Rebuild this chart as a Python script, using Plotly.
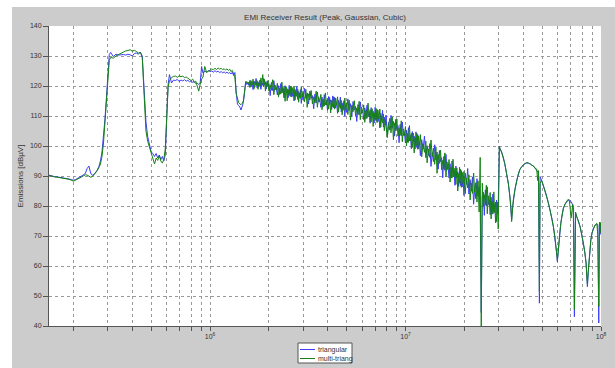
import plotly.graph_objects as go

# ---------------- data ----------------
# frequencies in MHz
freq_low = [0.150, 0.155, 0.160, 0.165, 0.170, 0.175, 0.180, 0.185, 0.190, 0.195,
            0.200, 0.205, 0.210, 0.215, 0.220, 0.225, 0.230, 0.235, 0.240, 0.245,
            0.250, 0.255, 0.260, 0.265, 0.270, 0.275, 0.280, 0.285, 0.290, 0.295,
            0.300, 0.305, 0.310, 0.320, 0.330, 0.340, 0.350, 0.360, 0.370, 0.380,
            0.390, 0.400, 0.410, 0.420, 0.430, 0.440, 0.450, 0.460, 0.470, 0.480,
            0.490, 0.500, 0.510, 0.520, 0.530, 0.540, 0.550, 0.560, 0.570, 0.580,
            0.590, 0.600, 0.610, 0.620, 0.635, 0.650, 0.665, 0.680, 0.695, 0.710,
            0.725, 0.740, 0.755, 0.770, 0.785, 0.800, 0.815, 0.830, 0.845, 0.860,
            0.875, 0.890, 0.905, 0.920, 0.940, 0.960, 0.980, 1.000, 1.020, 1.040,
            1.060, 1.080, 1.100, 1.120, 1.140, 1.160, 1.180, 1.200, 1.220, 1.240,
            1.260, 1.280, 1.300, 1.320, 1.340, 1.360, 1.380, 1.400, 1.420, 1.440,
            1.460, 1.480, 1.500, 1.520, 1.540, 1.560, 1.580]

triangular_low = [90.3, 90.0, 89.8, 89.7, 89.6, 89.5, 89.4, 89.3, 89.0, 88.8,
                  88.6, 88.8, 89.3, 89.8, 90.0, 90.4, 90.8, 92.5, 93.3, 91.0,
                  90.2, 90.5, 91.2, 92.0, 93.2, 95.0, 98.0, 102.5, 109.0, 116.0,
                  124.0, 130.5, 131.2, 129.8, 130.6, 130.3, 130.4, 130.5, 130.3, 130.6,
                  130.4, 130.0, 130.8, 131.0, 130.6, 131.3, 130.0, 120.0, 108.0, 103.0,
                  100.0, 98.0, 97.5, 96.5, 97.5, 96.0, 97.0, 95.5, 96.5, 95.0,
                  97.0, 112.0, 120.5, 123.8, 121.0, 122.0, 121.8, 122.2, 121.5, 122.0,
                  121.7, 122.1, 121.6, 121.9, 121.4, 121.7, 121.2, 121.5, 120.8, 121.0,
                  120.5, 121.0, 126.5, 124.3, 125.0, 124.6, 125.2, 124.8, 125.0, 124.6,
                  125.1, 124.7, 124.9, 124.5, 124.8, 124.4, 124.7, 124.3, 124.6, 124.2,
                  124.5, 124.0, 124.6, 123.5, 124.5, 118.0, 114.0, 113.5, 113.0, 112.0,
                  113.2, 114.5, 117.5, 121.5, 120.5, 121.2, 120.2]

multi_triang_low = [90.2, 89.9, 89.7, 89.6, 89.5, 89.4, 89.3, 89.1, 88.9, 88.6,
                    88.3, 88.6, 89.0, 89.5, 89.9, 90.2, 90.4, 90.3, 90.0, 89.6,
                    89.8, 90.4, 91.0, 91.8, 92.8, 94.0, 96.5, 101.0, 108.0, 116.0,
                    123.0, 128.5, 129.5, 129.3, 130.0, 130.6, 130.9, 131.3, 131.7, 131.8,
                    132.1, 131.6, 131.9, 131.5, 131.0, 131.2, 129.5, 117.0, 105.0, 101.5,
                    99.5, 97.0, 95.5, 94.0, 96.0, 95.2, 96.8, 95.0, 94.3, 95.5,
                    99.0, 110.0, 119.5, 121.8, 122.8, 123.2, 123.3, 122.9, 123.4, 123.1,
                    123.3, 122.8, 123.0, 122.6, 122.2, 121.8, 122.3, 121.2, 121.6, 119.5,
                    118.3, 120.5, 122.3, 123.0, 126.5, 124.5, 125.0, 125.3, 125.7, 125.4,
                    125.9, 125.5, 126.0, 125.6, 125.9, 125.4, 125.8, 125.3, 125.7, 125.2,
                    125.6, 124.8, 125.2, 124.0, 123.0, 117.5, 115.5, 114.5, 114.0, 113.8,
                    114.2, 115.0, 118.0, 120.8, 121.5, 120.6, 121.3]

freq_mid = [1.60, 1.62, 1.64, 1.66, 1.68, 1.70, 1.72, 1.74, 1.76, 1.78,
            1.80, 1.82, 1.84, 1.86, 1.88, 1.90, 1.92, 1.94, 1.96, 1.98,
            2.00, 2.03, 2.06, 2.09, 2.12, 2.15, 2.18, 2.21, 2.24, 2.27,
            2.30, 2.33, 2.36, 2.39, 2.42, 2.45, 2.48, 2.51, 2.54, 2.57,
            2.60, 2.63, 2.66, 2.69, 2.72, 2.75, 2.78, 2.81, 2.84, 2.87,
            2.90, 2.93, 2.96, 2.99,
            3.04, 3.09, 3.14, 3.19, 3.24, 3.29, 3.34, 3.39, 3.44, 3.49,
            3.54, 3.59, 3.64, 3.69, 3.74, 3.79, 3.84, 3.89, 3.94, 3.99,
            4.04, 4.09, 4.14, 4.19, 4.24, 4.29, 4.34, 4.39, 4.44, 4.49,
            4.54, 4.59, 4.64, 4.69, 4.74, 4.79, 4.84, 4.89, 4.94, 4.99,
            5.07, 5.15, 5.23, 5.31, 5.39, 5.47, 5.55, 5.63, 5.71, 5.79,
            5.87, 5.95, 6.03, 6.11, 6.19, 6.27, 6.35, 6.43, 6.51, 6.59,
            6.67, 6.75, 6.83, 6.91, 6.99, 7.07, 7.15, 7.23, 7.31, 7.39,
            7.47, 7.55, 7.63, 7.71, 7.79, 7.87, 7.95,
            8.07, 8.19, 8.31, 8.43, 8.55, 8.67, 8.79, 8.91, 9.03, 9.15,
            9.27, 9.39, 9.51, 9.63, 9.75, 9.87, 9.99, 10.11, 10.23, 10.35,
            10.47, 10.59, 10.71, 10.83, 10.95, 11.07, 11.19, 11.31, 11.43, 11.55,
            11.67, 11.79, 11.91,
            12.1, 12.3, 12.5, 12.7, 12.9, 13.1, 13.3, 13.5, 13.7, 13.9,
            14.1, 14.3, 14.5, 14.7, 14.9, 15.1, 15.3, 15.5, 15.7, 15.9,
            16.1, 16.3, 16.5, 16.7, 16.9, 17.1, 17.3, 17.5, 17.7, 17.9,
            18.1, 18.3, 18.5, 18.7, 18.9, 19.1, 19.3, 19.5, 19.7, 19.9,
            20.2, 20.5, 20.8, 21.1, 21.4, 21.7, 22.0, 22.3, 22.6, 22.9,
            23.2, 23.5, 23.8, 24.1, 24.4, 24.7, 25.0, 25.3, 25.6, 25.9,
            26.2, 26.5, 26.8, 27.1, 27.4, 27.7, 28.0, 28.3, 28.6, 28.9,
            29.2, 29.5, 29.8]

triangular_mid = [121.9, 119.7, 121.0, 118.8, 121.6, 120.4, 122.5, 119.4, 121.4, 120.1,
                  122.0, 118.9, 121.1, 120.2, 122.5, 120.3, 121.4, 119.0, 121.7, 120.2,
                  120.8, 116.8, 121.2, 118.5, 121.8, 118.7, 119.4, 117.0, 120.1, 117.2,
                  120.8, 117.7, 119.1, 116.0, 120.1, 117.7, 119.1, 116.1, 120.2, 116.6,
                  119.8, 116.5, 118.2, 115.0, 118.9, 117.1, 119.9, 115.5, 118.2, 116.2,
                  118.8, 114.2, 117.2, 115.4,
                  119.2, 115.9, 117.7, 114.0, 118.3, 115.9, 116.8, 112.4, 117.3, 114.3,
                  118.0, 114.6, 115.5, 112.9, 116.3, 113.1, 117.1, 113.7, 115.3, 111.9,
                  116.5, 113.8, 115.4, 112.2, 116.7, 112.7, 116.2, 112.7, 114.5, 110.9,
                  115.2, 113.2, 116.3, 111.4, 114.4, 112.2, 115.1, 109.9, 113.3, 111.3,
                  115.7, 111.9, 114.1, 109.7, 114.8, 112.0, 113.2, 108.2, 113.8, 110.4,
                  114.7, 110.8, 111.9, 108.8, 112.7, 109.1, 113.6, 109.8, 111.5, 107.6,
                  112.8, 109.8, 111.6, 107.7, 112.9, 108.3, 112.2, 108.1, 110.0, 106.0,
                  110.9, 108.5, 111.9, 106.3, 109.6, 107.0, 110.3,
                  103.8, 107.9, 105.3, 110.2, 105.9, 108.2, 103.3, 108.9, 105.6, 106.8,
                  101.1, 107.2, 103.4, 108.0, 103.5, 104.5, 101.0, 105.3, 101.2, 106.1,
                  101.7, 103.6, 99.1, 104.8, 101.4, 103.3, 99.0, 104.7, 99.5, 103.8,
                  99.1, 101.3, 96.8,
                  102.1, 99.0, 103.3, 96.1, 100.1, 96.8, 100.8, 93.2, 97.8, 94.8,
                  100.4, 95.4, 98.0, 92.3, 98.5, 94.8, 96.1, 89.4, 96.5, 91.9,
                  97.2, 92.1, 93.3, 89.3, 94.1, 89.3, 95.0, 89.9, 92.0, 86.9,
                  93.3, 89.3, 91.4, 86.5, 92.9, 86.8, 91.8, 86.4, 88.8, 83.5,
                  91.0, 87.2, 92.5, 84.0, 88.8, 84.9, 89.7, 80.6, 86.1, 82.4,
                  89.1, 83.3, 86.4, 79.8, 44.5, 83.0, 84.6, 76.9, 85.4, 80.0,
                  86.4, 80.4, 81.8, 77.1, 82.9, 77.3, 84.0, 77.9, 80.4, 74.4,
                  82.0, 77.3, 79.9]

multi_triang_mid = [119.5, 121.8, 120.4, 122.3, 119.1, 121.2, 120.1, 121.8, 118.9, 121.1,
                    120.0, 122.7, 120.6, 123.8, 119.7, 122.2, 118.3, 121.1, 119.8, 121.8,
                    118.3, 120.4, 118.6, 122.1, 117.1, 120.3, 118.7, 120.9, 116.3, 119.4,
                    117.3, 121.3, 117.7, 119.6, 114.9, 119.8, 115.1, 118.8, 116.9, 120.0,
                    116.3, 119.5, 117.4, 120.0, 115.3, 118.2, 116.5, 118.9, 114.6, 117.6,
                    115.9, 119.7, 116.4, 118.2,
                    114.7, 118.9, 112.9, 117.4, 115.3, 118.5, 114.0, 116.4, 114.4, 118.3,
                    112.9, 116.4, 114.8, 117.2, 112.1, 115.6, 113.3, 117.7, 113.7, 115.8,
                    112.3, 116.2, 111.0, 115.2, 113.1, 116.4, 112.3, 116.0, 113.6, 116.4,
                    111.3, 114.4, 112.5, 115.2, 110.4, 113.7, 111.9, 116.0, 112.4, 114.4,
                    110.5, 115.3, 108.6, 113.6, 111.4, 115.1, 110.1, 112.7, 110.5, 114.9,
                    108.8, 112.9, 111.0, 113.7, 107.9, 111.9, 109.2, 114.3, 109.7, 112.1,
                    108.0, 112.4, 106.5, 111.1, 108.7, 112.5, 107.8, 111.9, 109.0, 112.3,
                    106.3, 109.9, 107.7, 110.6, 105.1, 108.8, 106.7,
                    102.8, 106.8, 109.2, 104.4, 109.7, 102.1, 107.7, 105.1, 109.0, 103.3,
                    106.1, 103.6, 108.4, 101.4, 105.7, 103.5, 106.5, 100.0, 104.2, 101.2,
                    106.8, 101.7, 104.2, 99.5, 104.3, 97.7, 102.8, 100.1, 104.2, 98.9,
                    103.3, 100.2, 103.8,
                    96.4, 100.7, 97.9, 101.6, 94.4, 99.0, 96.2, 102.0, 96.5, 99.3,
                    93.9, 99.7, 90.9, 97.2, 94.2, 98.6, 92.1, 95.2, 92.3, 97.7,
                    89.7, 94.7, 92.2, 95.5, 88.0, 92.9, 89.4, 95.6, 89.7, 92.6,
                    87.2, 92.7, 85.0, 90.8, 87.6, 92.3, 86.2, 91.2, 87.5, 91.5,
                    84.1, 89.3, 86.0, 90.4, 82.0, 87.6, 84.2, 91.0, 84.6, 87.8,
                    81.3, 88.4, 78.0, 96.2, 39.0, 87.6, 79.9, 83.8, 80.4, 86.9,
                    77.4, 83.4, 80.4, 84.5, 75.7, 81.4, 77.3, 84.7, 77.8, 81.3,
                    74.8, 81.3, 72.3]

freq_high = [30.2, 30.4, 31.0, 31.6, 32.2, 32.9, 33.6, 34.2, 34.6, 34.9,
             35.2, 35.6, 36.3, 37.1, 37.8, 38.5, 39.3, 40.1, 40.9, 41.7,
             42.5, 43.4, 44.2, 45.1, 46.0, 46.9, 47.4, 47.9, 48.4, 48.8,
             49.7, 50.7, 51.7, 52.8, 53.8, 54.9, 56.0, 57.1, 58.0, 58.9,
             59.4, 59.8, 60.3, 60.8, 61.5, 62.3, 63.2, 64.2, 65.5, 66.8,
             67.8, 68.9, 70.3, 71.7, 72.4, 73.1, 74.1, 75.2, 76.7, 78.2,
             79.7, 81.3, 82.6, 83.9, 84.6, 85.2, 85.9, 86.6, 87.6, 88.7,
             90.0, 91.4, 93.3, 95.2, 96.3, 97.4, 98.2, 98.9, 99.5, 100.0]

triangular_high = [100.0, 99.2, 98.0, 96.4, 94.0, 90.9, 87.3, 83.1, 79.5, 75.5,
                   79.0, 82.0, 85.6, 88.7, 90.8, 92.2, 93.1, 93.7, 94.1, 94.3,
                   94.3, 94.0, 93.7, 93.3, 92.7, 92.0, 91.5, 90.9, 47.6, 89.8,
                   88.5, 87.0, 85.2, 83.1, 81.0, 78.7, 76.1, 73.1, 70.0, 66.4,
                   64.0, 61.4, 64.5, 67.6, 71.2, 74.2, 77.0, 79.2, 80.6, 81.4,
                   81.9, 82.0, 81.5, 80.3, 79.5, 43.1, 77.6, 76.4, 74.9, 73.1,
                   70.6, 67.6, 64.6, 60.9, 57.5, 53.1, 57.0, 60.9, 65.2, 68.7,
                   71.0, 72.6, 73.6, 74.0, 73.8, 41.0, 73.5, 70.5, 73.6, 71.5]

multi_triang_high = [99.8, 99.2, 98.0, 96.3, 94.1, 90.8, 87.4, 83.0, 79.8, 74.8,
                     79.2, 82.1, 85.5, 88.8, 90.9, 92.3, 93.2, 93.8, 94.2, 94.5,
                     94.3, 94.1, 93.6, 93.4, 92.5, 92.3, 88.5, 91.8, 51.5, 87.5,
                     88.6, 86.8, 85.3, 83.0, 81.1, 78.6, 76.2, 73.0, 70.1, 66.2,
                     63.5, 62.0, 64.3, 67.8, 71.0, 74.3, 76.9, 79.3, 80.7, 81.5,
                     82.2, 81.8, 76.0, 80.5, 74.0, 45.5, 78.0, 76.3, 75.0, 73.0,
                     70.7, 67.5, 64.7, 61.0, 56.5, 54.0, 57.8, 60.8, 65.3, 68.6,
                     71.1, 72.5, 73.7, 74.2, 70.5, 46.5, 74.6, 71.0, 74.5, 73.0]

series_names = ["triangular", "multi-triang"]
x_decades = [1e6, 1e7, 1e8]
x_decade_labels = ["10<sup>6</sup>", "10<sup>7</sup>", "10<sup>8</sup>"]
y_ticks = [40, 50, 60, 70, 80, 90, 100, 110, 120, 130, 140]

# ---------------- assemble ----------------
freq_hz = [f * 1e6 for f in freq_low + freq_mid + freq_high]
tri = triangular_low + triangular_mid + triangular_high
multi = multi_triang_low + multi_triang_mid + multi_triang_high

minor_vals = [m * d for d in (1e5, 1e6, 1e7) for m in range(2, 10) if m * d >= 1.5e5]

FONT = "Arial, Liberation Sans, sans-serif"
BLUE = "rgb(60,60,250)"
GREEN = "rgb(20,130,20)"
TXT = "#333"

fig = go.Figure()
fig.add_trace(go.Scatter(x=freq_hz, y=tri, mode="lines", name=series_names[0],
                         line=dict(color=BLUE, width=1), showlegend=False))
fig.add_trace(go.Scatter(x=freq_hz, y=multi, mode="lines", name=series_names[1],
                         line=dict(color=GREEN, width=1), showlegend=False))

grid = dict(showgrid=True, gridcolor="#999", griddash="dot", gridwidth=1)
axis_common = dict(showline=True, linecolor="#555", linewidth=1,
                   ticks="outside", tickcolor="#555", zeroline=False,
                   tickfont=dict(family=FONT, size=7, color=TXT), **grid)

fig.update_xaxes(type="log", range=[5.17609, 8.0], tickvals=x_decades,
                 ticktext=x_decade_labels, ticklen=4,
                 minor=dict(tickvals=minor_vals, ticks="outside", ticklen=4,
                            tickcolor="#555", **grid),
                 **axis_common)
fig.update_yaxes(range=[40, 140], tickvals=y_ticks, ticklen=5,
                 title=dict(text="Emissions [dBµV]", standoff=5,
                            font=dict(family=FONT, size=8, color=TXT)),
                 **axis_common)

# compact legend box below the plot (as in the reference)
W, H, L, T = 552.0, 300.0, 49.0, 26.0
def px_x(x):
    return (x - L) / W
def px_y(y):
    return (T + H - y) / H

legend_shapes = [
    dict(type="rect", xref="paper", yref="paper", x0=px_x(298), x1=px_x(352),
         y0=px_y(363), y1=px_y(343), fillcolor="white", line=dict(color="#555", width=1)),
    dict(type="line", xref="paper", yref="paper", x0=px_x(300), x1=px_x(315),
         y0=px_y(349.5), y1=px_y(349.5), line=dict(color=BLUE, width=1)),
    dict(type="line", xref="paper", yref="paper", x0=px_x(300), x1=px_x(315),
         y0=px_y(358.5), y1=px_y(358.5), line=dict(color=GREEN, width=1)),
]
legend_texts = [
    dict(text=series_names[0], xref="paper", yref="paper", x=px_x(316), y=px_y(349.5),
         xanchor="left", yanchor="middle", showarrow=False,
         font=dict(family=FONT, size=7, color=TXT)),
    dict(text=series_names[1], xref="paper", yref="paper", x=px_x(316), y=px_y(358.5),
         xanchor="left", yanchor="middle", showarrow=False,
         font=dict(family=FONT, size=7, color=TXT)),
]

fig.update_layout(
    width=615, height=368,
    margin=dict(l=49, r=14, t=26, b=42, autoexpand=False),
    paper_bgcolor="#cccccc", plot_bgcolor="white",
    title=dict(text="EMI Receiver Result (Peak, Gaussian, Cubic)", x=0.5, xref="paper",
               y=1 - 17 / 368, yanchor="middle", font=dict(family=FONT, size=8, color=TXT)),
    showlegend=False,
    annotations=legend_texts,
    shapes=[
        dict(type="rect", xref="paper", yref="paper", x0=-0.2, x1=1.2,
             y0=1 + 19 / 300, y1=1.2, fillcolor="white", line=dict(width=0), layer="below"),
        dict(type="rect", xref="paper", yref="paper", x0=-0.2, x1=-37 / 552,
             y0=-0.3, y1=1.2, fillcolor="white", line=dict(width=0), layer="below"),
    ] + legend_shapes,
)

fig.write_html("out.html", config={"displayModeBar": False},
               post_script="document.body.style.margin='0';document.body.style.padding='0';")
